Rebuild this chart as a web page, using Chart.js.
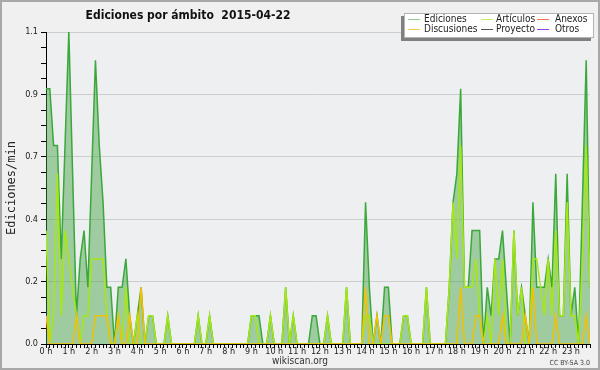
<!DOCTYPE html>
<html><head><meta charset="utf-8">
<script src="https://cdn.jsdelivr.net/npm/chart.js@4/dist/chart.umd.min.js"></script>
<style>html,body{margin:0;padding:0;background:#f0f0f0;overflow:hidden}canvas{display:block}</style>
</head><body><canvas id="c" width="600" height="370"></canvas>
<script>
const titleText = 'Ediciones por ámbito  2015-04-22';
const yTitle = 'Ediciones/min';
const xTitle = 'wikiscan.org';
const license = 'CC BY-SA 3.0';
const hourLabels = ['0 h','1 h','2 h','3 h','4 h','5 h','6 h','7 h','8 h','9 h','10 h','11 h','12 h','13 h','14 h','15 h','16 h','17 h','18 h','19 h','20 h','21 h','22 h','23 h'];
const yTickLabels = ['0.0','0.2','0.4','0.7','0.9','1.1'];
const seriesNames = ['Ediciones','Artículos','Anexos','Discusiones','Proyecto','Otros'];
// 144 ten-minute buckets, edits per minute
const ediciones = [
0.9,0.9,0.7,0.7,0.3,0.7,1.1,0.6,0.1,0.3,
0.4,0.2,0.6,1.0,0.7,0.5,0.2,0.2,0,0.2,
0.2,0.3,0.1,0,0.1,0.2,0,0.1,0.1,0,
0,0,0.1,0,0,0,0,0,0,0,
0.1,0,0,0.1,0,0,0,0,0,0,
0,0,0,0,0.1,0.1,0.1,0,0,0.1,
0,0,0,0.2,0,0.1,0,0,0,0,
0.1,0.1,0,0,0.1,0,0,0,0,0.2,
0,0,0,0,0.5,0.2,0,0.1,0,0.2,
0.2,0,0,0,0.1,0.1,0,0,0,0,
0.2,0,0,0,0,0,0.2,0.5,0.6,0.9,
0.2,0.2,0.4,0.4,0.4,0,0.2,0.1,0.3,0.3,
0.4,0.2,0,0.4,0.1,0.2,0.1,0,0.5,0.2,
0.2,0.2,0.3,0.2,0.6,0.1,0.1,0.6,0.1,0.2,
0,0.5,1.0,0.2];
const articulos = [
0.4,0,0.1,0.6,0.1,0.4,0.3,0.2,0.1,0,
0.1,0.1,0.3,0.3,0.3,0.3,0.1,0,0,0.1,
0,0.2,0,0,0.1,0,0,0.1,0.1,0,
0,0,0.1,0,0,0,0,0,0,0,
0.1,0,0,0.1,0,0,0,0,0,0,
0,0,0,0,0.1,0.1,0,0,0,0.1,
0,0,0,0.2,0,0.1,0,0,0,0,
0,0,0,0,0.1,0,0,0,0,0.2,
0,0,0,0,0.1,0.1,0,0,0,0,
0,0,0,0,0.1,0.1,0,0,0,0,
0.2,0,0,0,0,0,0.2,0.5,0.3,0.7,
0.2,0.2,0.2,0.3,0.1,0,0.1,0,0.3,0.1,
0.3,0,0,0.4,0.1,0.2,0,0,0.3,0.3,
0.2,0.1,0.3,0.1,0.4,0.1,0.1,0.5,0.1,0.1,
0,0.3,0.7,0.2];
const discusiones = [
0.1,0,0,0,0,0,0,0,0.1,0,
0,0,0,0.1,0.1,0.1,0.1,0,0,0.1,
0,0,0.1,0,0,0.2,0,0,0,0,
0,0,0,0,0,0,0,0,0,0,
0,0,0,0,0,0,0,0,0,0,
0,0,0,0,0,0,0,0,0,0,
0,0,0,0,0,0,0,0,0,0,
0,0,0,0,0,0,0,0,0,0,
0,0,0,0,0.2,0,0,0.1,0,0.1,
0.1,0,0,0,0,0,0,0,0,0,
0,0,0,0,0,0,0,0,0,0.2,
0,0,0,0.1,0.1,0,0,0,0,0,
0.1,0,0,0,0,0,0.1,0,0.2,0,
0,0,0,0,0.1,0,0,0,0,0,
0,0,0.1,0];
const anexos = [];
const proyecto = [];
const otros = [];

const toPts = arr => arr.map((v,i)=>({x:i,y:v}));
const FONT = '"DejaVu Sans Condensed","Liberation Sans Narrow","DejaVu Sans",sans-serif';
Chart.defaults.font.family = FONT;

const decor = {
  id:'decor',
  beforeDraw(chart){
    const {ctx, chartArea:a} = chart;
    ctx.save();
    ctx.fillStyle='#f0f0f0'; ctx.fillRect(0,0,chart.width,chart.height);
    ctx.fillStyle='#eeeff1'; ctx.fillRect(a.left,a.top,a.right-a.left,a.bottom-a.top);
    ctx.restore();
  },
  afterDraw(chart){
    const ctx = chart.ctx, a = chart.chartArea;
    ctx.save();
    ctx.strokeStyle='#a8a8a8'; ctx.lineWidth=2; ctx.strokeRect(1,1,chart.width-2,chart.height-2);
    ctx.fillStyle='#111'; ctx.textAlign='center'; ctx.textBaseline='middle';
    ctx.font='bold 12px '+FONT;
    ctx.fillText(titleText, 188, 16);
    ctx.save(); ctx.translate(12,(a.top+a.bottom)/2); ctx.rotate(-Math.PI/2);
    ctx.font='12px "DejaVu Sans Mono",monospace'; ctx.fillStyle='#222';
    ctx.fillText(yTitle,0,0); ctx.restore();
    ctx.fillStyle='#333'; ctx.font='10px '+FONT;
    ctx.fillText(xTitle, 300, 361);
    ctx.textAlign='right'; ctx.font='7px '+FONT; ctx.fillStyle='#444';
    ctx.fillText(license, 590, 363);
    // legend box
    const L={x:404,y:13,w:190,h:25};
    ctx.fillStyle='#808080'; ctx.fillRect(L.x-3,L.y+3,L.w,L.h);
    ctx.fillStyle='#ffffff'; ctx.fillRect(L.x,L.y,L.w,L.h);
    ctx.strokeStyle='#b4b4b4'; ctx.lineWidth=1; ctx.strokeRect(L.x+0.5,L.y+0.5,L.w-1,L.h-1);
    const colX=[408,481,537], textX=[424,496,555], rowY=[19.5,29.5];
    ctx.textAlign='left'; ctx.font='10px '+FONT;
    chart.data.datasets.forEach((ds,i)=>{
      const c=i%3, r=Math.floor(i/3);
      ctx.strokeStyle=ds.legendColor; ctx.lineWidth=1;
      ctx.beginPath(); ctx.moveTo(colX[c],rowY[r]); ctx.lineTo(colX[c]+12,rowY[r]); ctx.stroke();
      ctx.fillStyle='#222'; ctx.fillText(ds.label, textX[c], rowY[r]);
    });
    ctx.restore();
  }
};

new Chart(document.getElementById('c'), {
  type:'line',
  data:{datasets:[
    {label:seriesNames[0], data:toPts(ediciones), borderColor:'#3aa83a', legendColor:'#8fd08f', backgroundColor:'rgba(60,160,60,0.45)', fill:'origin', borderWidth:1.5, order:3},
    {label:seriesNames[1], data:toPts(articulos), borderColor:'#a6e812', legendColor:'#c8ee60', borderWidth:1.5, fill:false, order:2},
    {label:seriesNames[2], data:toPts(anexos), borderColor:'#ee7744', legendColor:'#ee7744', borderWidth:1.5, fill:false, order:4},
    {label:seriesNames[3], data:toPts(discusiones), borderColor:'#f2c200', legendColor:'#f8d048', borderWidth:1.5, fill:false, order:1},
    {label:seriesNames[4], data:toPts(proyecto), borderColor:'#555555', legendColor:'#555555', borderWidth:1.5, fill:false, order:5},
    {label:seriesNames[5], data:toPts(otros), borderColor:'#9944ee', legendColor:'#9944ee', borderWidth:1.5, fill:false, order:6}
  ]},
  options:{
    responsive:false, animation:false, devicePixelRatio:1,
    layout:{padding:{left:0,top:32,right:10,bottom:0}},
    plugins:{legend:{display:false}, title:{display:false}, tooltip:{enabled:false}},
    elements:{point:{radius:0}, line:{tension:0}},
    scales:{
      x:{type:'linear', min:0, max:143, z:1,
        afterBuildTicks:s=>{ s.ticks = ediciones.map((_,i)=>({value:i})); },
        ticks:{autoSkip:false, maxRotation:0, minRotation:0, padding:-2, color:'#222', font:{size:9},
          callback:(v)=> (v%6===0 ? hourLabels[v/6] : '')},
        grid:{drawOnChartArea:false, tickLength:4, tickColor:'#000', color:'#000'},
        border:{color:'#000', width:1},
        afterFit:s=>{ s.height = 26; }
      },
      y:{min:0, max:1.1, z:1,
        afterBuildTicks:s=>{ const t=[]; for(let k=0;k<=20;k++) t.push({value:k*1.1/20}); s.ticks=t; },
        ticks:{autoSkip:false, padding:3, color:'#222', font:{size:9},
          callback:(v,i)=> (i%4===0 ? yTickLabels[i/4] : '')},
        grid:{color:c=> (c.index%4===0 && c.index>0 ? '#cdcdcd' : 'rgba(0,0,0,0)'), tickColor:'#000', tickLength:5},
        border:{color:'#000', width:1},
        afterFit:s=>{ s.width = 46; }
      }
    }
  },
  plugins:[decor]
});
</script>
</body></html>
